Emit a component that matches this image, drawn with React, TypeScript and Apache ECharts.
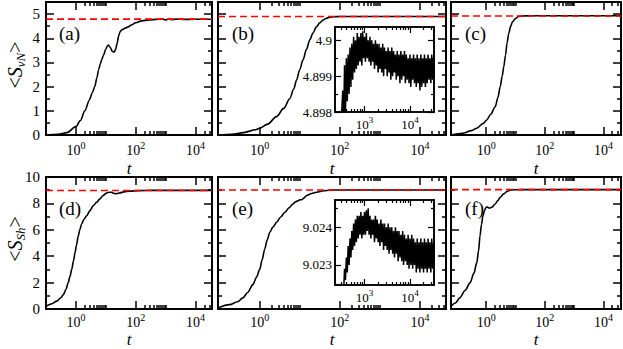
import React, { useEffect, useRef } from "react";
import * as echarts from "echarts";

const FONT = "Liberation Serif";

// main curves: [log10(t), S]
const panelAData = [[-1,0],[-0.6,0.03],[-0.3,0.1],[0,0.35],[0.15,0.6],[0.3,1.0],[0.45,1.45],[0.55,1.75],[0.63,2.0],[0.7,2.35],[0.76,2.7],[0.82,2.95],[0.86,3.1],[0.92,3.3],[1.0,3.55],[1.05,3.68],[1.09,3.72],[1.15,3.62],[1.22,3.45],[1.28,3.43],[1.33,3.55],[1.38,3.8],[1.43,4.1],[1.48,4.28],[1.55,4.36],[1.65,4.42],[1.75,4.47],[1.85,4.55],[2.0,4.64],[2.2,4.72],[2.45,4.76],[2.7,4.78],[2.9,4.79],[3.0,4.76],[3.1,4.8],[3.2,4.77],[3.35,4.79],[3.6,4.78],[4.0,4.785],[4.55,4.785]];
const panelBData = [[-1.04,0],[-0.7,0.03],[-0.4,0.1],[-0.1,0.22],[0,0.28],[0.2,0.45],[0.42,0.76],[0.6,1.1],[0.75,1.5],[0.85,1.9],[0.92,2.27],[1.0,2.7],[1.08,3.1],[1.17,3.55],[1.25,3.93],[1.33,4.22],[1.42,4.48],[1.5,4.64],[1.58,4.75],[1.67,4.83],[1.75,4.87],[1.85,4.89],[2.0,4.9],[2.5,4.899],[3.0,4.9],[4.65,4.899]];
const panelCData = [[-1.2,0],[-0.8,0.07],[-0.5,0.18],[-0.32,0.28],[-0.1,0.48],[0.02,0.62],[0.15,0.85],[0.31,1.17],[0.4,1.55],[0.48,2.0],[0.55,2.45],[0.6,2.82],[0.66,3.3],[0.71,3.79],[0.77,4.2],[0.83,4.48],[0.9,4.68],[1.0,4.82],[1.1,4.9],[1.2,4.92],[1.5,4.93],[4.6,4.93]];
const panelDData = [[-1,0.2],[-0.8,0.4],[-0.64,0.6],[-0.5,0.85],[-0.42,1.09],[-0.33,1.5],[-0.26,1.98],[-0.2,2.45],[-0.14,3.0],[-0.08,3.65],[-0.03,4.27],[0.02,4.85],[0.08,5.54],[0.13,6.0],[0.19,6.44],[0.27,6.8],[0.36,7.07],[0.47,7.45],[0.58,7.83],[0.7,8.1],[0.8,8.34],[0.9,8.58],[1.02,8.78],[1.12,8.85],[1.19,8.85],[1.25,8.78],[1.3,8.73],[1.38,8.75],[1.47,8.8],[1.6,8.87],[1.8,8.93],[2.1,8.97],[2.5,8.99],[3.0,8.99],[4.55,8.99]];
const panelEData = [[-1.04,0.08],[-0.75,0.33],[-0.55,0.55],[-0.42,0.84],[-0.3,1.25],[-0.17,1.85],[-0.08,2.4],[0,3.0],[0.06,3.7],[0.125,4.53],[0.19,5.25],[0.25,5.8],[0.33,6.2],[0.42,6.56],[0.52,6.95],[0.63,7.33],[0.73,7.66],[0.83,7.96],[0.9,8.12],[0.96,8.21],[1.0,8.27],[1.05,8.28],[1.1,8.4],[1.17,8.6],[1.3,8.75],[1.42,8.85],[1.6,8.96],[1.75,9.0],[2.0,9.02],[4.65,9.02]];
const panelFData = [[-1.2,0.2],[-1.05,0.45],[-0.9,0.84],[-0.72,1.4],[-0.55,1.98],[-0.42,2.7],[-0.32,3.51],[-0.26,4.4],[-0.21,5.54],[-0.16,6.4],[-0.11,7.07],[-0.05,7.5],[0,7.71],[0.05,7.72],[0.11,7.63],[0.2,7.72],[0.31,7.96],[0.4,8.22],[0.48,8.47],[0.6,8.72],[0.71,8.9],[0.82,9.0],[0.94,9.03],[1.2,9.04],[4.6,9.04]];

// dashed reference levels
const refLevels = [4.79, 4.9, 4.92, 8.98, 9.02, 9.04];

// insets (log10 t shared)
const insetLogT = [
  2.48, 2.52, 2.54, 2.56, 2.58, 2.60, 2.62, 2.64, 2.66, 2.68,
  2.70, 2.72, 2.74, 2.76, 2.78, 2.80, 2.82, 2.84, 2.86, 2.88,
  2.90, 2.92, 2.94, 2.96, 2.98, 3.00, 3.02, 3.04, 3.06, 3.08,
  3.10, 3.12, 3.14, 3.16, 3.18, 3.20, 3.22, 3.24, 3.26, 3.28,
  3.30, 3.32, 3.34, 3.36, 3.38, 3.40, 3.42, 3.44, 3.46, 3.48,
  3.50, 3.52, 3.54, 3.56, 3.58, 3.60, 3.62, 3.64, 3.66, 3.68,
  3.70, 3.72, 3.74, 3.76, 3.78, 3.80, 3.82, 3.84, 3.86, 3.88,
  3.90, 3.92, 3.94, 3.96, 3.98, 4.00, 4.02, 4.04, 4.06, 4.08,
  4.10, 4.12, 4.14, 4.16, 4.18, 4.20, 4.22, 4.24, 4.26, 4.28,
  4.30, 4.32, 4.34, 4.36, 4.38, 4.40, 4.42, 4.44, 4.46, 4.48,
  4.50, 4.52, 4.53
];
const insetBS = [
  4.8975, 4.8986, 4.8976, 4.8993, 4.8979, 4.8995, 4.8983, 4.8996, 4.8985, 4.8998,
  4.8987, 4.8999, 4.8989, 4.9001, 4.8991, 4.9000, 4.8992, 4.9002, 4.8993, 4.9001,
  4.8994, 4.9002, 4.8993, 4.90025, 4.8995, 4.9001, 4.8994, 4.9002, 4.8995, 4.9000,
  4.8994, 4.9001, 4.8993, 4.9000, 4.8994, 4.8999, 4.8992, 4.9000, 4.8993, 4.8999,
  4.8991, 4.8999, 4.8992, 4.8998, 4.8991, 4.8999, 4.8990, 4.8998, 4.8992, 4.8997,
  4.8990, 4.8998, 4.8991, 4.8997, 4.8989, 4.8998, 4.8990, 4.8997, 4.8991, 4.8996,
  4.8989, 4.8997, 4.8990, 4.8996, 4.8988, 4.8997, 4.8989, 4.8996, 4.8990, 4.8997,
  4.8988, 4.8996, 4.8989, 4.8995, 4.8988, 4.8996, 4.8987, 4.8995, 4.8989, 4.8996,
  4.8988, 4.8995, 4.8987, 4.8996, 4.8988, 4.8995, 4.8986, 4.8996, 4.8987, 4.8995,
  4.8988, 4.8996, 4.8987, 4.8995, 4.8988, 4.8996, 4.8989, 4.8995, 4.8988, 4.8996,
  4.8989, 4.8995, 4.8990
];
const insetES = [
  9.0222, 9.0224, 9.0223, 9.0229, 9.0226, 9.0232, 9.0228, 9.0235, 9.0230, 9.0237,
  9.0232, 9.0239, 9.0234, 9.0241, 9.0235, 9.0242, 9.0236, 9.0243, 9.0237, 9.0243,
  9.0238, 9.0244, 9.0237, 9.0243, 9.0238, 9.0244, 9.0238, 9.02445, 9.0239, 9.0245,
  9.0238, 9.0243, 9.0237, 9.0242, 9.0238, 9.0242, 9.0236, 9.0243, 9.0237, 9.0242,
  9.0236, 9.0241, 9.0235, 9.0242, 9.0236, 9.0241, 9.0234, 9.0241, 9.0235, 9.0240,
  9.0234, 9.0241, 9.0233, 9.0240, 9.0234, 9.0240, 9.0233, 9.0239, 9.0232, 9.0240,
  9.0233, 9.0239, 9.0231, 9.0239, 9.0232, 9.0238, 9.0231, 9.0239, 9.0230, 9.0238,
  9.0231, 9.0237, 9.0230, 9.0238, 9.0229, 9.0237, 9.0230, 9.0238, 9.0229, 9.0237,
  9.0230, 9.0236, 9.0228, 9.0237, 9.0229, 9.0236, 9.0228, 9.0237, 9.0229, 9.0236,
  9.0228, 9.0237, 9.0229, 9.0236, 9.0228, 9.0237, 9.0229, 9.0236, 9.0228, 9.0237,
  9.0229, 9.0236, 9.0230
];

// ticks
const xMajorExp = [0, 2, 4];
const xMinorFactors = [2, 3, 4, 5, 6, 7, 8, 9, 10];
const row1YMajor = [0, 1, 2, 3, 4, 5];
const row1YMinor = [0.5, 1.5, 2.5, 3.5, 4.5];
const row2YMajor = [0, 2, 4, 6, 8, 10];
const row2YMinor = [1, 3, 5, 7, 9];
const insetXMajor = [3, 4];
const insetXMinorDecades = [2, 3, 4];
const insetXMinorFactors = [2, 3, 4, 5, 6, 7, 8, 9];
const insetBYMajor = [4.898, 4.899, 4.9];
const insetBYMinor = [4.8985, 4.8995];
const insetEYMajor = [9.023, 9.024];
const insetEYMinor = [9.0225, 9.0235, 9.0245];

const panelLabels = ["(a)", "(b)", "(c)", "(d)", "(e)", "(f)"];

function buildOption() {
  const grid: any[] = [];
  const xAxis: any[] = [];
  const yAxis: any[] = [];
  const series: any[] = [];
  const graphic: any[] = [];

  const mainXMinor = xMajorExp.flatMap((n) => xMinorFactors.map((k) => n + Math.log10(k)));
  const insetXMinor = insetXMinorDecades.flatMap((n) => insetXMinorFactors.map((k) => n + Math.log10(k)));

  const supRich = (b: number, s: number, lh: number) => ({
    b: { fontSize: b, fontFamily: FONT, color: "#000", lineHeight: lh },
    s: { fontSize: s, fontFamily: FONT, color: "#000", verticalAlign: "top" },
  });

  function addFrame(r: any, xr: any, yr: any, st: any) {
    const gi = grid.length;
    grid.push({ left: r.l, top: r.t, width: r.w, height: r.h, show: st.bg, backgroundColor: "#fff", borderWidth: 0 });
    const xi = xAxis.length;
    for (const pos of ["bottom", "top"]) {
      for (const major of [true, false]) {
        const vals = major ? xr.major : xr.minor;
        xAxis.push({
          type: "value", gridIndex: gi, position: pos, min: xr.min, max: xr.max,
          axisLine: { show: true, onZero: false, lineStyle: { color: "#000", width: st.frame } },
          splitLine: { show: false },
          axisTick: { show: true, inside: true, length: major ? st.majorLen : st.minorLen, customValues: vals, lineStyle: { color: "#000", width: st.tick } },
          axisLabel: pos === "bottom" && major
            ? { show: true, customValues: vals, margin: st.xMargin, fontFamily: FONT, formatter: (v: number) => `{b|10}{s|${Math.round(v)}}`, rich: st.xRich }
            : { show: false },
        });
      }
    }
    const yi = yAxis.length;
    for (const pos of ["left", "right"]) {
      for (const major of [true, false]) {
        const vals = major ? yr.major : yr.minor;
        yAxis.push({
          type: "value", gridIndex: gi, position: pos, min: yr.min, max: yr.max,
          axisLine: { show: true, onZero: false, lineStyle: { color: "#000", width: st.frame } },
          splitLine: { show: false },
          axisTick: { show: true, inside: true, length: major ? st.majorLen : st.minorLen, customValues: vals, lineStyle: { color: "#000", width: st.tick } },
          axisLabel: pos === "left" && major && st.yLabels
            ? { show: true, customValues: vals, margin: st.yMargin, formatter: (v: number) => String(v), fontSize: st.yFont, fontFamily: FONT, color: "#000" }
            : { show: false },
        });
      }
    }
    return { xi, yi };
  }

  const cols = [
    { l: 46, w: 166, min: -1, max: 4.55 },
    { l: 218, w: 228, min: -1.04, max: 4.65 },
    { l: 451, w: 170, min: -1.2, max: 4.6 },
  ];
  const rows = [
    { t: 2, h: 133, min: 0, max: 5.5, major: row1YMajor, minor: row1YMinor, xMargin: 5, tY: 33 },
    { t: 177, h: 132, min: 0, max: 10, major: row2YMajor, minor: row2YMinor, xMargin: 3, tY: 30 },
  ];
  const datas = [panelAData, panelBData, panelCData, panelDData, panelEData, panelFData];

  for (let ri = 0; ri < 2; ri++) {
    for (let ci = 0; ci < 3; ci++) {
      const c = cols[ci];
      const rw = rows[ri];
      const idx = ri * 3 + ci;
      const { xi, yi } = addFrame(
        { l: c.l, t: rw.t, w: c.w, h: rw.h },
        { min: c.min, max: c.max, major: xMajorExp, minor: mainXMinor.filter((v) => v > c.min && v < c.max) },
        { min: rw.min, max: rw.max, major: rw.major, minor: rw.minor },
        { bg: false, frame: 2, tick: 1.5, majorLen: 8, minorLen: 4, xMargin: rw.xMargin, xRich: supRich(14, 10, 21), yLabels: ci === 0, yMargin: 6, yFont: 15 }
      );
      series.push({
        type: "line", xAxisIndex: xi, yAxisIndex: yi, data: datas[idx], symbol: "none",
        smooth: 0.3, smoothMonotone: "x", lineStyle: { color: "#000", width: 1.6 }, clip: true, z: 3, silent: true,
      });
      series.push({
        type: "line", xAxisIndex: xi, yAxisIndex: yi, data: [[c.min, refLevels[idx]], [c.max, refLevels[idx]]],
        symbol: "none", lineStyle: { color: "#ff0000", width: 1.6, type: [7, 4] }, z: 4, silent: true,
      });
      graphic.push({
        type: "text", x: c.l + (ci === 0 ? 13 : 14), y: rw.t + 31,
        style: { text: panelLabels[idx], fontSize: 19, fontFamily: FONT, fill: "#000", align: "left", verticalAlign: "middle" },
      });
      graphic.push({
        type: "text", x: c.l + c.w / 2, y: rw.t + rw.h + rw.tY,
        style: { text: "t", fontSize: 17, fontFamily: FONT, fontStyle: "italic", fill: "#000", align: "center", verticalAlign: "middle" },
      });
    }
  }

  const insets = [
    { t: 27, ymin: 4.898, ymax: 4.90037, major: insetBYMajor, minor: insetBYMinor, vals: insetBS },
    { t: 200, ymin: 9.02247, ymax: 9.02472, major: insetEYMajor, minor: insetEYMinor, vals: insetES },
  ];
  for (const ins of insets) {
    const { xi, yi } = addFrame(
      { l: 335, t: ins.t, w: 99, h: 85 },
      { min: 2.35, max: 4.53, major: insetXMajor, minor: insetXMinor.filter((v) => v > 2.35 && v < 4.53) },
      { min: ins.ymin, max: ins.ymax, major: ins.major, minor: ins.minor },
      { bg: true, frame: 1.6, tick: 1.2, majorLen: 6, minorLen: 3, xMargin: 3, xRich: supRich(13, 9, 19), yLabels: true, yMargin: 3, yFont: 13 }
    );
    series.push({
      type: "line", xAxisIndex: xi, yAxisIndex: yi, data: insetLogT.map((x, i) => [x, ins.vals[i]]),
      symbol: "none", lineStyle: { color: "#000", width: 1.5 }, clip: true, z: 5, silent: true,
    });
  }

  const yTitles = [
    { y: 65, sub: "vN" },
    { y: 239, sub: "Sh" },
  ];
  for (const yt of yTitles) {
    graphic.push({
      type: "text", x: 15, y: yt.y, rotation: Math.PI / 2,
      style: {
        text: `{m|<}{i|S}{s|${yt.sub}}{m|>}`,
        align: "center", verticalAlign: "middle", fill: "#000", fontFamily: FONT,
        rich: {
          m: { fontSize: 20, fontFamily: FONT, color: "#000", lineHeight: 24 },
          i: { fontSize: 20, fontFamily: FONT, fontStyle: "italic", color: "#000", lineHeight: 24 },
          s: { fontSize: 13, fontFamily: FONT, fontStyle: "italic", color: "#000", verticalAlign: "bottom" },
        },
      },
    });
  }

  return { animation: false, backgroundColor: "#fff", textStyle: { fontFamily: FONT }, grid, xAxis, yAxis, series, graphic };
}

export default function App() {
  const ref = useRef<HTMLDivElement>(null);
  useEffect(() => {
    if (!ref.current) return;
    const chart = echarts.init(ref.current, null, { renderer: "svg" });
    chart.setOption(buildOption() as any);
    return () => chart.dispose();
  }, []);
  return <div ref={ref} style={{ position: "absolute", left: 0, top: 0, width: 623, height: 349 }} />;
}
